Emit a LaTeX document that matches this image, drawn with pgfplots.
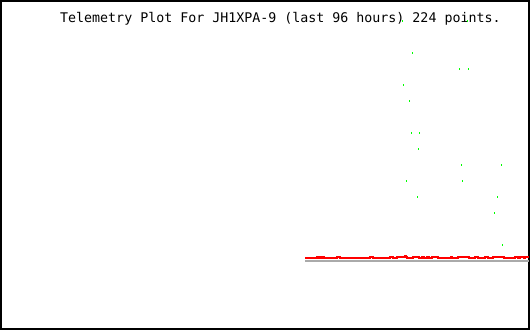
\documentclass[border=0pt]{standalone}
\usepackage{pgfplots}
\pgfplotsset{compat=1.18}
\usepackage{fontspec}
\newfontfamily\monofont{DejaVu Sans Mono}
\definecolor{tgreen}{RGB}{0,255,0}
\definecolor{tred}{RGB}{255,0,0}
\definecolor{tgray}{RGB}{170,170,170}
\begin{document}
\begin{tikzpicture}
\begin{axis}[
  scale only axis,
  width=528pt, height=328pt,
  xmin=1, xmax=529, ymin=1, ymax=329,
  y dir=reverse,
  axis line style={line width=2pt, black},
  xtick=\empty, ytick=\empty,
  clip=true,
]
\node[anchor=base west, inner sep=0pt, font=\monofont\fontsize{13.3}{14}\selectfont] at (axis cs:60,22) {Telemetry Plot For JH1XPA-9 (last 96 hours) 224 points.};
% gray reference series
\addplot[tgray, line width=2pt] coordinates {(305,261) (529,261)};
% red series
\addplot[tred, line width=2pt, const plot] coordinates {
(305,258)(317,257)(318,258)(319,257)(320,258)(321,257)(322,258)(323,257)(324,258)
(337,257)(340,258)(370,257)(373,258)(390,257)(393,258)(397,257)(405,256)(406,257)
(407,258)(413,257)(419,258)(422,257)(424,258)(427,257)(429,258)(432,257)(438,258)
(451,257)(452,258)(458,257)(469,258)(475,257)(478,258)(485,257)(488,258)(493,257)
(504,258)(515,257)(518,258)(520,257)(524,258)(525,257)(529,257)};
% green series
\addplot[only marks, mark=|, mark size=1pt, mark options={tgreen, line width=1pt}] coordinates {
(402.5,21)(467.5,21)(412.5,53)(459.5,69)(468.5,69)(403.5,85)(409.5,101)
(411.5,133)(419.5,133)(418.5,149)(461.5,165)(501.5,165)(406.5,181)(462.5,181)
(417.5,197)(497.5,197)(494.5,213)(502.5,245)};
\end{axis}
\end{tikzpicture}
\end{document}
